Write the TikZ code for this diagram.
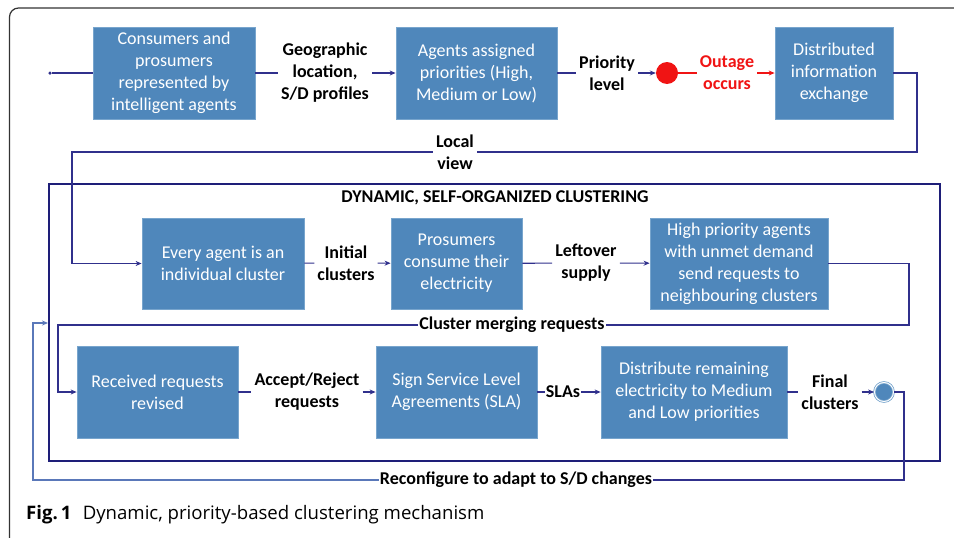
\documentclass[tikz,border=0pt]{standalone}
\usepackage{fontspec}
\setmainfont{Carlito}
\newfontfamily\capfont{Open Sans}
\usetikzlibrary{arrows.meta,calc}
\definecolor{boxblue}{RGB}{79,135,187}
\definecolor{boxedge}{RGB}{120,165,205}
\definecolor{conn}{RGB}{48,48,140}
\definecolor{frameblue}{RGB}{30,30,120}
\definecolor{lightconn}{RGB}{90,120,185}
\definecolor{outred}{RGB}{240,20,20}
\tikzset{
  procbox/.style={draw=boxedge, line width=0.8pt, fill=boxblue, text=white, align=center,
    font=\fontsize{18}{22}\selectfont, inner sep=0pt},
  lbl/.style={font=\bfseries\fontsize{18}{22}\selectfont, align=center, inner sep=3pt},
  conline/.style={draw=conn, line width=1.1pt},
  conarrow/.style={conline, -{Stealth[length=6pt,width=5pt]}},
}
\begin{document}
\begin{tikzpicture}[x=1pt,y=-1pt]
\useasboundingbox (0,0) rectangle (954,538);
\begin{scope}
\clip (0,0) rectangle (954,538);
\draw[black!80, line width=1.2pt, rounded corners=9pt] (9.5,8) rectangle (1000,600);
\end{scope}

% cluster frame
\draw[frameblue, line width=2.8pt] (49,184) rectangle (940,461);
\node[font=\bfseries\fontsize{18}{22}\selectfont] (title) at (495,198) {DYNAMIC, SELF-ORGANIZED CLUSTERING};

% boxes
\node[procbox, minimum width=162pt, minimum height=92pt] (b1) at (174,73) {Consumers and\\prosumers\\represented by\\intelligent agents};
\node[procbox, minimum width=161pt, minimum height=92pt] (b2) at (476.5,73) {Agents assigned\\priorities (High,\\Medium or Low)};
\node[procbox, minimum width=118pt, minimum height=92pt] (b3) at (834,73) {Distributed\\information\\exchange};
\node[procbox, minimum width=162pt, minimum height=91pt] (b4) at (223,263.5) {Every agent is an\\individual cluster};
\node[procbox, minimum width=131pt, minimum height=91pt] (b5) at (456.5,263.5) {Prosumers\\consume their\\electricity};
\node[procbox, minimum width=178pt, minimum height=91pt] (b6) at (739,263.5) {High priority agents\\with unmet demand\\send requests to\\neighbouring clusters};
\node[procbox, minimum width=161pt, minimum height=92pt] (b7) at (157.5,392) {Received requests\\revised};
\node[procbox, minimum width=161pt, minimum height=92pt] (b8) at (456.5,392) {Sign Service Level\\Agreements (SLA)};
\node[procbox, minimum width=186pt, minimum height=92pt] (b9) at (694,392) {Distribute remaining\\electricity to Medium\\and Low priorities};

% labels
\node[lbl] (geo) at (325,73) {Geographic\\location,\\S/D profiles};
\node[lbl] (prio) at (607,73) {Priority\\level};
\node[lbl, text=outred] (out) at (727,73) {Outage\\occurs};
\node[lbl] (local) at (455,152) {Local\\view};
\node[lbl] (init) at (346,263) {Initial\\clusters};
\node[lbl] (left) at (586,263) {Leftover\\supply};
\node[lbl, inner sep=1pt] (merge) at (512,325) {Cluster merging requests};
\node[lbl] (acc) at (307,392) {Accept/Reject\\requests};
\node[lbl, inner sep=1pt] (slas) at (563,392) {SLAs};
\node[lbl] (fin) at (830,392) {Final\\clusters};
\node[lbl, inner sep=1pt] (reconf) at (516,480) {Reconfigure to adapt to S/D changes};

% circles
\node[circle, fill=outred, minimum size=22pt, inner sep=0pt] (red) at (667,73) {};
\node[circle, fill=boxblue, draw=boxedge, double=white, double distance=1pt, line width=0.8pt, minimum size=19pt, inner sep=0pt] (fc) at (884,392) {};
\node[circle, fill=conn, minimum size=3.5pt, inner sep=0pt] (start) at (50,73) {};

% coordinates
\coordinate (c1) at (917,73);
\coordinate (c2) at (917,152);
\coordinate (c3) at (72,152);
\coordinate (c4) at (72,263.5);
\coordinate (d1) at (909,263.5);
\coordinate (d2) at (909,325);
\coordinate (d3) at (58,325);
\coordinate (d4) at (58,392);
\coordinate (e1) at (904,392);
\coordinate (e2) at (904,480);
\coordinate (e3) at (33,480);
\coordinate (e4) at (33,323);
\coordinate (e5) at (48,323);

% connectors
\draw[conline] (start) -- (b1);
\draw[conline] (b1) -- (geo);
\draw[conarrow] (geo) -- (b2);
\draw[conline] (b2) -- (prio);
\draw[conarrow] (prio) -- (red);
\draw[draw=outred, line width=1.1pt] (red) -- (out);
\draw[draw=outred, line width=1.1pt, -{Stealth[length=6pt,width=5pt]}] (out) -- (b3);
\draw[conline] (b3.east) -- (c1) -- (c2) -- (local.east |- c2);
\draw[conarrow] (local.west |- c3) -- (c3) -- (c4) -- (b4.west);
\draw[conline] (b4) -- (init);
\draw[conarrow] (init) -- (b5);
\draw[conline] (b5) -- (left);
\draw[conarrow] (left) -- (b6);
\draw[conline] (b6.east) -- (d1) -- (d2) -- (merge.east);
\draw[conarrow] (merge.west) -- (d3) -- (d4) -- (b7.west);
\draw[conline] (b7) -- (acc);
\draw[conarrow] (acc) -- (b8);
\draw[conline] (b8) -- (slas);
\draw[conarrow] (slas) -- (b9);
\draw[conline] (b9) -- (fin);
\draw[conarrow] (fin) -- (fc);
\draw[conline] (fc) -- (e1) -- (e2) -- (reconf.east);
\draw[draw=lightconn, line width=1.1pt, -{Stealth[length=6pt,width=5pt]}] (reconf.west) -- (e3) -- (e4) -- (e5);

% caption
\node[anchor=west, font=\capfont\fontsize{18.6}{22}\selectfont, inner sep=0pt] (cap) at (26,515) {\textbf{Fig.\,1}\hspace{0.6em}Dynamic, priority-based clustering mechanism};
\end{tikzpicture}
\end{document}
